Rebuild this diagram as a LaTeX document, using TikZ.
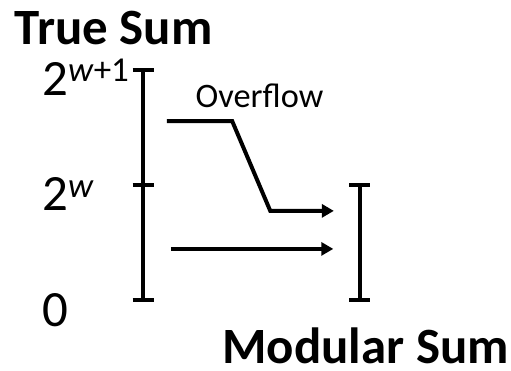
\documentclass[tikz,border=0pt]{standalone}
\usepackage{fontspec}
\setmainfont{Carlito}
\usetikzlibrary{arrows.meta}

\begin{document}
\begin{tikzpicture}[>={Triangle[length=6pt,width=6.5pt]},heading/.style={anchor=base west,inner sep=0pt,font=\fontsize{25.5}{30}\selectfont\bfseries},level/.style={anchor=base west,inner sep=0pt,font=\fontsize{25.5}{30}\selectfont},note/.style={anchor=base west,inner sep=0pt,font=\fontsize{17.2}{21}\selectfont},bar/.style={line width=2.3pt},flow/.style={line width=2pt}]
\useasboundingbox (0,0) rectangle (9,6.534);
\node[heading] (truesum) at (0.25,5.742) {True Sum};
\node[level] (top) at (0.74,4.844) {2\raisebox{7pt}{\fontsize{17.5}{18}\selectfont\textit{w}+1}};
\node[level] (mid) at (0.74,2.818) {2\raisebox{7pt}{\fontsize{17.5}{18}\selectfont\textit{w}}};
\node[level] (zero) at (0.74,0.775) {0};
\node[note] (overflow) at (3.44,4.632) {Overflow};
\node[heading] (modsum) at (3.91,0.13) {Modular Sum};
\coordinate (Ltop) at (2.52,5.30);
\coordinate (Lmid) at (2.52,3.276);
\coordinate (Lbot) at (2.52,1.251);
\coordinate (Rtop) at (6.34,3.276);
\coordinate (Rbot) at (6.34,1.251);
\coordinate (ovstart) at (2.94,4.40);
\coordinate (ovbend) at (4.09,4.40);
\coordinate (ovdrop) at (4.76,2.82);
\coordinate (ovend) at (5.88,2.82);
\coordinate (instart) at (3.01,2.15);
\coordinate (inend) at (5.87,2.15);
\draw[bar] (Ltop)--(Lbot);
\draw[bar] ([xshift=-0.185cm]Ltop)--([xshift=0.185cm]Ltop);
\draw[bar] ([xshift=-0.185cm]Lmid)--([xshift=0.185cm]Lmid);
\draw[bar] ([xshift=-0.185cm]Lbot)--([xshift=0.185cm]Lbot);
\draw[bar] (Rtop)--(Rbot);
\draw[bar] ([xshift=-0.185cm]Rtop)--([xshift=0.185cm]Rtop);
\draw[bar] ([xshift=-0.185cm]Rbot)--([xshift=0.185cm]Rbot);
\draw[->,flow] (ovstart)--(ovbend)--(ovdrop)--(ovend);
\draw[->,flow] (instart)--(inend);
\end{tikzpicture}
\end{document}
